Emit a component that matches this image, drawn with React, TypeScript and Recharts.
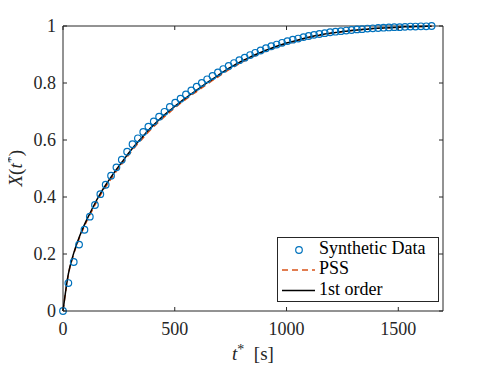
import React from 'react';
import { ComposedChart, Line, XAxis, YAxis, ReferenceArea, Legend } from 'recharts';

// time grid (s)
const T = [0, 24, 48, 72, 96, 120, 143, 167, 191, 215, 239, 263, 287, 311, 335, 359, 382, 406, 430, 454,
  478, 502, 526, 550, 574, 598, 621, 645, 669, 693, 717, 741, 765, 789, 813, 837, 860, 884, 908, 932,
  956, 980, 1004, 1028, 1052, 1076, 1099, 1123, 1147, 1171, 1195, 1219, 1243, 1267, 1291, 1315, 1338, 1362, 1386, 1410,
  1434, 1458, 1482, 1506, 1530, 1554, 1577, 1601, 1625, 1649];

// Synthetic data (circles)
const SYNTH = [0, 0.098, 0.172, 0.233, 0.285, 0.331, 0.372, 0.410, 0.443, 0.475, 0.504, 0.531, 0.559, 0.585, 0.606, 0.628, 0.647, 0.665, 0.682, 0.699,
  0.716, 0.731, 0.745, 0.760, 0.774, 0.787, 0.800, 0.813, 0.825, 0.837, 0.849, 0.860, 0.870, 0.880, 0.889, 0.898, 0.906, 0.914, 0.922, 0.929,
  0.935, 0.941, 0.947, 0.952, 0.956, 0.961, 0.965, 0.969, 0.972, 0.975, 0.978, 0.980, 0.982, 0.984, 0.986, 0.988, 0.989, 0.991, 0.992, 0.993,
  0.994, 0.995, 0.996, 0.996, 0.997, 0.998, 0.998, 0.999, 0.999, 1.0];

// PSS model (dashed)
const PSS = [0, 0.128, 0.200, 0.254, 0.298, 0.337, 0.372, 0.406, 0.436, 0.464, 0.491, 0.516, 0.541, 0.565, 0.587, 0.608, 0.628, 0.647, 0.665, 0.682,
  0.698, 0.714, 0.729, 0.743, 0.757, 0.770, 0.783, 0.796, 0.809, 0.821, 0.834, 0.846, 0.857, 0.868, 0.878, 0.887, 0.896, 0.904, 0.912, 0.919,
  0.926, 0.933, 0.939, 0.944, 0.949, 0.954, 0.959, 0.963, 0.967, 0.971, 0.974, 0.977, 0.979, 0.982, 0.984, 0.986, 0.988, 0.989, 0.991, 0.992,
  0.993, 0.994, 0.995, 0.996, 0.997, 0.997, 0.998, 0.998, 0.999, 0.999];

// 1st order model (solid black)
const FIRST = [0, 0.130, 0.203, 0.258, 0.303, 0.342, 0.378, 0.412, 0.442, 0.470, 0.497, 0.522, 0.547, 0.571, 0.593, 0.614, 0.634, 0.653, 0.671, 0.688,
  0.704, 0.719, 0.734, 0.748, 0.762, 0.775, 0.788, 0.801, 0.814, 0.826, 0.839, 0.851, 0.862, 0.872, 0.882, 0.891, 0.899, 0.907, 0.915, 0.922,
  0.929, 0.935, 0.941, 0.946, 0.951, 0.956, 0.961, 0.965, 0.968, 0.972, 0.975, 0.977, 0.980, 0.982, 0.984, 0.986, 0.988, 0.989, 0.991, 0.992,
  0.993, 0.994, 0.995, 0.996, 0.997, 0.997, 0.998, 0.998, 0.999, 0.999];

const X_TICKS = [0, 500, 1000, 1500];
const Y_TICKS = [0, 0.2, 0.4, 0.6, 0.8, 1];

const data = T.map((t, i) => ({ t, synth: SYNTH[i], pss: PSS[i], first: FIRST[i] }));

const FONT = 'Liberation Serif, DejaVu Serif, serif';
const AX = '#262626';
const BLUE = '#0072BD';
const ORANGE = '#D95319';

const W = 480;
const H = 358;
const M = { top: 18, right: 45, bottom: 0, left: 0 };
const PL = 55;
const PR = W - M.right;
const PT = M.top;
const PB = 303;
const TL = 4;

const TXT: React.CSSProperties = { fontFamily: FONT };

const XTick = (props: any) => {
  const { x, payload } = props;
  return (
    <g>
      <line x1={x} x2={x} y1={PB} y2={PB - TL} stroke={AX} strokeWidth={1} />
      <line x1={x} x2={x} y1={PT} y2={PT + TL} stroke={AX} strokeWidth={1} />
      <text x={x} y={PB + 24} textAnchor="middle" style={TXT} fontSize={18} fill={AX}>
        {String(payload.value)}
      </text>
    </g>
  );
};

const YTick = (props: any) => {
  const { y, payload } = props;
  return (
    <g>
      <line x1={PL} x2={PL + TL} y1={y} y2={y} stroke={AX} strokeWidth={1} />
      <line x1={PR} x2={PR - TL} y1={y} y2={y} stroke={AX} strokeWidth={1} />
      <text x={PL - 7} y={y + 6} textAnchor="end" style={TXT} fontSize={18} fill={AX}>
        {String(payload.value)}
      </text>
    </g>
  );
};

const XLabel = () => (
  <text x={245} y={352} textAnchor="middle" style={TXT} fontSize={19} fill={AX}>
    <tspan fontStyle="italic">t</tspan>
    <tspan fontSize={14} dy={-6}>*</tspan>
    <tspan dy={6}>{'\u00a0\u00a0[s]'}</tspan>
  </text>
);

const YLabel = () => (
  <g transform="translate(14, 160.5) rotate(-90) translate(-40, -30)" style={TXT} fontSize={19} fill={AX}>
    <text x={22} y={30}>
      <tspan fontStyle="italic">X</tspan>
      <tspan>(</tspan>
      <tspan fontStyle="italic">t</tspan>
      <tspan fontSize={14} dy={-6}>*</tspan>
      <tspan dy={6}>)</tspan>
    </text>
  </g>
);

const LegendBox = () => (
  <div style={{ width: 162, height: 65, boxSizing: 'border-box', border: `1px solid ${AX}`, background: '#fff' }}>
    <svg width={160} height={63} style={{ display: 'block' }}>
      <circle cx={21} cy={12} r={3.3} fill="none" stroke={BLUE} strokeWidth={1.2} />
      <text x={41} y={15.5} style={TXT} fontSize={18} fill="#000">Synthetic Data</text>
      <line x1={4} x2={37} y1={32} y2={32} stroke={ORANGE} strokeWidth={1.5} strokeDasharray="6 4" />
      <text x={41} y={36} style={TXT} fontSize={18} fill="#000">PSS</text>
      <line x1={4} x2={37} y1={52.5} y2={52.5} stroke="#000" strokeWidth={1.5} />
      <text x={41} y={56.5} style={TXT} fontSize={18} fill="#000">1st order</text>
    </svg>
  </div>
);

export default function App() {
  return (
    <div style={{ width: W, height: H, background: '#fff' }}>
      <ComposedChart width={W} height={H} data={data} margin={M} style={{ overflow: 'visible' }}>
        <XAxis
          dataKey="t"
          type="number"
          domain={[0, 1700]}
          ticks={X_TICKS}
          axisLine={false}
          tickLine={false}
          tick={<XTick />}
          height={55}
          interval={0}
          label={<XLabel />}
        />
        <YAxis
          type="number"
          domain={[0, 1]}
          ticks={Y_TICKS}
          axisLine={false}
          tickLine={false}
          tick={<YTick />}
          width={55}
          interval={0}
          label={<YLabel />}
        />
        <ReferenceArea x1={0} x2={1700} y1={0} y2={1} fill="none" stroke={AX} strokeWidth={1} ifOverflow="visible" />
        <Line
          dataKey="synth"
          stroke="none"
          isAnimationActive={false}
          dot={{ r: 3.3, stroke: BLUE, strokeWidth: 1.2, fill: 'none' }}
          activeDot={false}
          legendType="circle"
        />
        <Line dataKey="pss" type="monotone" stroke={ORANGE} strokeWidth={1.5} strokeDasharray="6 4" dot={false} isAnimationActive={false} />
        <Line dataKey="first" type="monotone" stroke="#000" strokeWidth={1.5} dot={false} isAnimationActive={false} />
        <Legend
          layout="horizontal"
          verticalAlign="middle"
          align="center"
          content={<LegendBox />}
          wrapperStyle={{ position: 'absolute', left: 269, top: 229, width: 162, height: 65 }}
        />
      </ComposedChart>
    </div>
  );
}
